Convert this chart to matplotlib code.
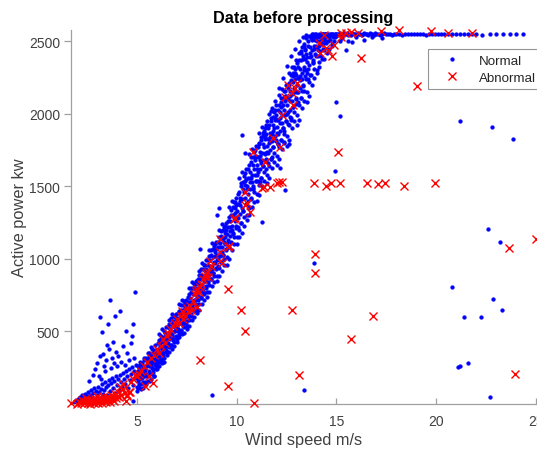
import matplotlib
matplotlib.use("Agg")
import matplotlib.pyplot as plt
from matplotlib.ticker import FixedLocator

plt.rcParams['font.family'] = ['Liberation Sans', 'DejaVu Sans']

# ---------------- data ----------------
# Normal points: low wind region (cut-in)
norm_low_x = [1.85,1.9,2.0,2.05,2.1,2.15,2.2,2.25,2.3,2.35,2.4,2.45,2.5,2.55,2.6,2.65,2.7,2.75,2.8,2.85,
              2.9,2.95,3.0,3.05,3.1,3.15,3.2,3.25,3.3,3.35,3.4,3.45,3.5,3.55,3.6,3.65,3.7,3.75,3.8,3.85,
              3.9,3.95,4.0,4.05,4.1,4.15,4.2,4.25,4.3,4.35,4.4,4.45,4.5,4.55,4.6,4.65,4.7,4.75,4.8,4.85,
              4.9,4.95,5.0,5.0]
norm_low_y = [5,20,12,35,8,50,25,60,15,40,70,30,55,85,20,65,95,45,75,110,
              35,90,60,120,80,40,105,135,70,95,150,115,60,130,165,90,145,180,110,160,
              75,190,130,170,95,200,150,120,215,175,140,230,190,110,240,165,210,255,130,230,
              180,270,205,120]
# Normal points scattered above the cut-in band
norm_up_x = [2.6,2.8,2.9,3.0,3.1,3.15,3.25,3.3,3.35,3.45,3.5,3.55,3.6,3.15,3.65,3.75,3.8,3.85,3.9,3.95,
             4.05,4.15,4.2,4.3,4.45,4.5,4.6,4.7,4.8,4.9,4.85,3.4,3.7,4.0,4.4,3.2,4.75]
norm_up_y = [160,200,240,280,190,330,495,345,260,300,410,550,380,600,720,320,425,280,605,360,
             330,640,290,400,500,350,300,420,550,770,320,225,250,260,270,170,470]
# Normal points: main rising band (5-10 m/s)
norm_mid_x = [5.02,5.05,5.08,5.1,5.13,5.16,5.18,5.21,5.24,5.26,5.29,5.31,5.34,5.36,5.39,5.41,5.44,5.46,5.48,5.5,
              5.52,5.55,5.57,5.6,5.62,5.65,5.67,5.7,5.72,5.75,5.77,5.8,5.82,5.85,5.87,5.9,5.92,5.95,5.97,6.0,
              6.02,6.05,6.07,6.1,6.12,6.15,6.17,6.2,6.22,6.25,6.27,6.3,6.32,6.35,6.37,6.4,6.42,6.45,6.47,6.5,
              6.52,6.55,6.57,6.6,6.62,6.65,6.67,6.7,6.72,6.75,6.77,6.8,6.82,6.85,6.87,6.9,6.92,6.95,6.97,7.0,
              7.02,7.05,7.07,7.1,7.12,7.15,7.17,7.2,7.22,7.25,7.27,7.3,7.32,7.35,7.37,7.4,7.42,7.45,7.47,7.5,
              7.52,7.55,7.57,7.6,7.62,7.65,7.67,7.7,7.72,7.75,7.77,7.8,7.82,7.85,7.87,7.9,7.92,7.95,7.97,8.0,
              8.02,8.05,8.07,8.1,8.12,8.15,8.17,8.2,8.22,8.25,8.27,8.3,8.32,8.35,8.37,8.4,8.42,8.45,8.47,8.5,
              8.52,8.55,8.57,8.6,8.62,8.65,8.67,8.7,8.72,8.75,8.77,8.8,8.82,8.85,8.87,8.9,8.92,8.95,8.97,9.0,
              9.02,9.05,9.07,9.1,9.12,9.15,9.17,9.2,9.22,9.25,9.27,9.3,9.32,9.35,9.37,9.4,9.42,9.45,9.47,9.5,
              9.52,9.55,9.57,9.6,9.62,9.65,9.67,9.7,9.72,9.75,9.77,9.8,9.82,9.85,9.87,9.9,9.92,9.95,9.97,10.0]
norm_mid_y = [90,230,160,250,120,200,270,140,230,180,110,260,200,300,150,240,320,190,140,270,
              200,320,160,260,350,210,290,170,330,250,380,220,300,190,360,270,410,240,320,280,
              240,380,300,440,260,350,420,310,470,380,280,430,350,500,320,450,390,530,360,420,
              340,480,400,550,360,450,520,410,590,470,380,540,450,610,430,500,560,460,620,520,
              430,590,500,640,460,560,620,510,680,570,480,650,560,710,530,600,660,560,720,620,
              520,700,600,760,540,660,730,620,800,680,580,760,660,830,640,720,790,680,850,740,
              630,830,720,890,650,780,860,740,930,800,690,880,780,960,760,850,920,800,990,870,
              740,960,840,1020,770,900,990,860,1060,930,810,1010,900,1090,880,970,1050,930,1120,990,
              850,1080,950,1150,880,1020,1110,980,1190,1050,920,1140,1030,1220,1000,1100,1180,1060,1250,1110,
              960,1220,1080,1290,1000,1160,1260,1120,1340,1200,1060,1300,1180,1390,1150,1260,1350,1230,1420,1290]
norm_mid2_x = [5.01,5.035,5.06,5.085,5.11,5.135,5.16,5.185,5.21,5.235,5.26,5.285,5.31,5.335,5.36,5.385,5.41,5.435,5.46,5.485,
               5.51,5.535,5.56,5.585,5.61,5.635,5.66,5.685,5.71,5.735,5.76,5.785,5.81,5.835,5.86,5.885,5.91,5.935,5.96,5.985,
               6.01,6.035,6.06,6.085,6.11,6.135,6.16,6.185,6.21,6.235,6.26,6.285,6.31,6.335,6.36,6.385,6.41,6.435,6.46,6.485,
               6.51,6.535,6.56,6.585,6.61,6.635,6.66,6.685,6.71,6.735,6.76,6.785,6.81,6.835,6.86,6.885,6.91,6.935,6.96,6.985,
               7.01,7.035,7.06,7.085,7.11,7.135,7.16,7.185,7.21,7.235,7.26,7.285,7.31,7.335,7.36,7.385,7.41,7.435,7.46,7.485,
               7.51,7.535,7.56,7.585,7.61,7.635,7.66,7.685,7.71,7.735,7.76,7.785,7.81,7.835,7.86,7.885,7.91,7.935,7.96,7.985,
               8.01,8.035,8.06,8.085,8.11,8.135,8.16,8.185,8.21,8.235,8.26,8.285,8.31,8.335,8.36,8.385,8.41,8.435,8.46,8.485,
               8.51,8.535,8.56,8.585,8.61,8.635,8.66,8.685,8.71,8.735,8.76,8.785,8.81,8.835,8.86,8.885,8.91,8.935,8.96,8.985,
               9.01,9.035,9.06,9.085,9.11,9.135,9.16,9.185,9.21,9.235,9.26,9.285,9.31,9.335,9.36,9.385,9.41,9.435,9.46,9.485,
               9.51,9.535,9.56,9.585,9.61,9.635,9.66,9.685,9.71,9.735,9.76,9.785,9.81,9.835,9.86,9.885,9.91,9.935,9.96,9.985]
norm_mid2_y = [180,110,260,200,140,290,170,230,100,210,280,150,250,190,320,220,130,260,300,200,
               270,190,350,230,300,160,330,260,390,210,280,350,240,310,190,370,290,250,340,300,
               350,260,420,330,480,290,400,360,450,310,520,380,340,460,400,290,490,430,370,470,
               450,360,530,420,580,390,490,460,550,410,620,480,440,570,500,400,600,530,470,580,
               540,450,630,520,690,480,590,560,650,500,720,580,540,680,600,490,700,630,570,680,
               650,540,740,630,800,580,700,670,770,610,840,700,650,800,720,600,830,760,690,800,
               770,650,860,750,920,690,820,790,890,730,970,820,770,930,850,720,960,880,810,930,
               900,770,990,880,1060,820,950,920,1030,860,1110,950,900,1070,980,840,1100,1020,940,1070,
               1030,880,1120,1000,1200,940,1080,1050,1160,980,1240,1080,1030,1200,1120,960,1230,1150,1070,1200,
               1170,1010,1260,1130,1360,1080,1220,1190,1300,1110,1400,1230,1170,1360,1280,1100,1390,1320,1210,1370]
# Normal points: steep upper band (10-15 m/s)
norm_high_x = [10.02,10.05,10.07,10.1,10.12,10.15,10.17,10.2,10.22,10.25,10.27,10.3,10.32,10.35,10.37,10.4,10.42,10.45,10.47,10.5,
               10.52,10.55,10.57,10.6,10.62,10.65,10.67,10.7,10.72,10.75,10.77,10.8,10.82,10.85,10.87,10.9,10.92,10.95,10.97,11.0,
               11.02,11.05,11.07,11.1,11.12,11.15,11.17,11.2,11.22,11.25,11.27,11.3,11.32,11.35,11.37,11.4,11.42,11.45,11.47,11.5,
               11.52,11.55,11.57,11.6,11.62,11.65,11.67,11.7,11.72,11.75,11.77,11.8,11.82,11.85,11.87,11.9,11.92,11.95,11.97,12.0,
               12.02,12.05,12.07,12.1,12.12,12.15,12.17,12.2,12.22,12.25,12.27,12.3,12.32,12.35,12.37,12.4,12.42,12.45,12.47,12.5,
               12.52,12.55,12.57,12.6,12.62,12.65,12.67,12.7,12.72,12.75,12.77,12.8,12.82,12.85,12.87,12.9,12.92,12.95,12.97,13.0,
               13.02,13.05,13.07,13.1,13.12,13.15,13.17,13.2,13.22,13.25,13.27,13.3,13.32,13.35,13.37,13.4,13.42,13.45,13.47,13.5,
               13.52,13.55,13.57,13.6,13.62,13.65,13.67,13.7,13.72,13.75,13.77,13.8,13.82,13.85,13.87,13.9,13.92,13.95,13.97,14.0,
               14.02,14.05,14.07,14.1,14.12,14.15,14.17,14.2,14.22,14.25,14.27,14.3,14.32,14.35,14.37,14.4,14.42,14.45,14.47,14.5,
               14.52,14.55,14.57,14.6,14.62,14.65,14.67,14.7,14.72,14.75,14.77,14.8,14.82,14.85,14.87,14.9,14.92,14.95,14.97,15.0]
norm_high_y = [1100,1380,1220,1460,1150,1310,1420,1250,1520,1350,1180,1480,1330,1570,1290,1420,1540,1380,1620,1480,
               1270,1560,1400,1650,1300,1480,1600,1420,1700,1530,1360,1650,1500,1740,1460,1580,1700,1540,1780,1620,
               1400,1700,1540,1790,1440,1620,1740,1560,1840,1680,1500,1790,1640,1880,1600,1720,1840,1680,1920,1740,
               1520,1830,1660,1920,1560,1750,1870,1690,1970,1810,1630,1920,1770,2010,1730,1850,1970,1810,2060,1870,
               1650,1960,1790,2060,1690,1880,2010,1820,2110,1940,1760,2060,1900,2160,1860,1990,2110,1950,2200,2000,
               1780,2100,1930,2210,1820,2030,2160,1960,2270,2090,1900,2220,2050,2320,2010,2150,2280,2110,2370,2150,
               1920,2250,2080,2370,1960,2180,2310,2110,2430,2240,2040,2380,2200,2480,2160,2300,2440,2260,2520,2300,
               2080,2390,2240,2500,2120,2340,2460,2270,2540,2400,2200,2510,2360,2550,2310,2450,2540,2410,2550,2470,
               2280,2500,2400,2540,2320,2470,2530,2430,2550,2500,2380,2545,2480,2550,2440,2520,2550,2500,2550,2530,
               2420,2540,2500,2550,2450,2530,2550,2510,2550,2545,2480,2550,2530,2550,2500,2545,2550,2530,2550,2540]
norm_high2_x = [10.01,10.035,10.06,10.085,10.11,10.135,10.16,10.185,10.21,10.235,10.26,10.285,10.31,10.335,10.36,10.385,10.41,10.435,10.46,10.485,
                10.51,10.535,10.56,10.585,10.61,10.635,10.66,10.685,10.71,10.735,10.76,10.785,10.81,10.835,10.86,10.885,10.91,10.935,10.96,10.985,
                11.01,11.035,11.06,11.085,11.11,11.135,11.16,11.185,11.21,11.235,11.26,11.285,11.31,11.335,11.36,11.385,11.41,11.435,11.46,11.485,
                11.51,11.535,11.56,11.585,11.61,11.635,11.66,11.685,11.71,11.735,11.76,11.785,11.81,11.835,11.86,11.885,11.91,11.935,11.96,11.985,
                12.01,12.035,12.06,12.085,12.11,12.135,12.16,12.185,12.21,12.235,12.26,12.285,12.31,12.335,12.36,12.385,12.41,12.435,12.46,12.485,
                12.51,12.535,12.56,12.585,12.61,12.635,12.66,12.685,12.71,12.735,12.76,12.785,12.81,12.835,12.86,12.885,12.91,12.935,12.96,12.985,
                13.01,13.035,13.06,13.085,13.11,13.135,13.16,13.185,13.21,13.235,13.26,13.285,13.31,13.335,13.36,13.385,13.41,13.435,13.46,13.485,
                13.51,13.535,13.56,13.585,13.61,13.635,13.66,13.685,13.71,13.735,13.76,13.785,13.81,13.835,13.86,13.885,13.91,13.935,13.96,13.985,
                14.01,14.035,14.06,14.085,14.11,14.135,14.16,14.185,14.21,14.235,14.26,14.285,14.31,14.335,14.36,14.385,14.41,14.435,14.46,14.485]
norm_high2_y = [1330,1150,1450,1280,1560,1200,1400,1370,1500,1250,1600,1410,1330,1530,1460,1230,1590,1510,1380,1550,
                1500,1300,1620,1450,1720,1360,1560,1530,1670,1410,1760,1580,1490,1700,1620,1390,1750,1680,1540,1710,
                1650,1450,1770,1600,1870,1510,1710,1680,1820,1560,1910,1730,1640,1850,1770,1540,1900,1830,1690,1860,
                1780,1580,1900,1730,2000,1640,1840,1810,1950,1690,2040,1860,1770,1980,1900,1670,2030,1960,1820,1990,
                1910,1710,2030,1860,2130,1770,1970,1940,2080,1820,2170,1990,1900,2110,2030,1800,2160,2090,1950,2120,
                2060,1850,2180,2010,2280,1920,2120,2090,2230,1970,2320,2140,2050,2260,2180,1950,2310,2240,2100,2270,
                2200,1990,2320,2150,2420,2060,2260,2230,2370,2110,2460,2280,2190,2400,2320,2090,2450,2380,2240,2410,
                2360,2150,2470,2310,2540,2220,2420,2390,2520,2270,2550,2440,2350,2530,2470,2250,2550,2510,2400,2530,
                2460,2300,2530,2440,2550,2360,2500,2480,2545,2400,2550,2510,2450,2550,2520,2380,2550,2540,2490,2550]
norm_high3_x = [10.6,10.7,10.8,10.9,11.0,11.1,11.2,11.3,11.4,11.5,11.6,11.7,11.8,11.9,12.0,12.1,12.2,12.3,12.4,12.5,
                12.6,12.7,12.8,12.9,13.0,13.1,13.2,13.3,13.4,13.5,11.15,11.45,11.75,12.05,12.35,12.65,12.95,13.25,13.55,13.85]
norm_high3_y = [1350,1560,1480,1700,1580,1800,1660,1870,1730,1950,1800,2020,1880,2090,1960,2180,2050,2250,2120,2330,
                2200,2400,2280,2450,2350,2500,2420,2530,2470,2545,1530,1620,1700,1790,1880,1980,2070,2160,2280,2370]
# Normal points: rated power plateau
norm_top_x = [15.0,15.07,15.13,15.2,15.26,15.33,15.4,15.46,15.53,15.6,15.66,15.73,15.8,15.86,15.93,16.0,16.07,16.13,
              16.2,16.27,16.33,16.4,16.47,16.53,16.6,16.67,16.73,16.8,16.87,16.93,17.0,17.1,17.2,17.3,17.4,17.5,
              17.6,17.7,17.8,17.9,18.0,18.15,18.3,18.45,18.6,18.75,18.9,19.05,19.2,19.35,19.5,19.65,19.8,19.95,
              20.1,20.25,20.4,20.6,20.8,21.0,21.2,21.4,21.6,21.8,22.0,22.3,22.7,23.0,23.35,23.7,24.0,24.35,
              15.3,15.6,16.0,16.4,15.8,17.3,16.8,15.5,14.8,15.2]
norm_top_y = [2548,2553,2545,2556,2550,2543,2554,2549,2557,2546,2552,2544,2555,2548,2551,2546,2556,2549,
              2553,2545,2550,2557,2547,2552,2544,2555,2549,2551,2546,2554,2548,2552,2545,2550,2556,2547,
              2553,2549,2545,2552,2548,2550,2546,2553,2549,2551,2547,2552,2548,2550,2546,2553,2549,2551,
              2548,2552,2547,2550,2549,2551,2548,2550,2547,2552,2549,2546,2550,2548,2551,2547,2550,2548,
              2520,2500,2530,2510,2494,2521,2530,2440,2470,2500]
# Isolated normal points
norm_out_x = [15.0,15.2,14.95,21.2,22.8,23.85,22.6,23.2,12.4,12.15,12.35,12.6,13.9,20.8,22.85,23.3,21.4,22.25,
              21.1,21.2,21.6,22.7,13.35,8.75,10.25,10.4,9.0,9.1,11.25,4.8,8.15]
norm_out_y = [2082,1986,1608,1951,1910,1827,1209,1120,1477,1628,1807,1793,969,804,721,646,598,598,
              254,261,282,48,96,62,1855,1730,1305,1353,1257,20,1065]

# Abnormal points
abn_low_x = [1.7,2.0,2.1,2.2,2.3,2.35,2.4,2.5,2.55,2.6,2.65,2.7,2.75,2.8,2.85,2.9,2.95,3.0,3.05,3.1,
             3.15,3.2,3.25,3.3,3.35,3.4,3.45,3.5,3.55,3.6,3.65,3.7,3.75,3.8,3.85,3.9,3.95,4.0,4.05,4.1,
             4.15,4.2,4.3,4.4,4.5,4.45,4.6,2.45,2.25,3.0,4.5,4.65,4.3,5.4,5.8,5.6]
abn_low_y = [5,3,15,8,20,5,12,25,8,18,3,30,12,22,6,35,15,28,8,40,
             18,30,10,45,22,35,12,50,28,40,15,60,32,48,20,70,38,55,85,45,
             120,65,100,75,60,20,80,40,30,55,55,82,137,124,144,192]
abn_band_x = [5.0,5.2,5.5,5.7,6.0,6.1,6.3,6.4,6.5,6.65,6.8,7.0,7.1,7.25,7.4,7.5,7.65,7.7,7.8,7.9,
              8.0,8.15,8.2,8.3,8.4,8.55,8.65,8.7,9.15,9.15,9.15,9.6,6.2,6.9,7.55,8.1,5.35,5.85,6.55,7.2,
              7.95,8.45,5.1,4.8,4.9,4.7,9.25,9.55,9.9,8.55,8.0,7.3]
abn_band_y = [192,230,288,320,378,350,447,420,470,515,540,584,560,639,610,660,673,650,708,760,
              790,804,830,859,880,907,983,950,983,1051,1134,1086,400,560,640,770,260,340,490,610,
              780,900,210,170,200,150,975,1079,1285,872,666,584]
abn_up_x = [10.4,10.5,10.65,9.85,10.4,11.35,11.4,10.8,12.15,11.8,12.25,12.8,12.4,12.75,12.9,13.0,12.55,
            14.15,14.4,14.5,14.9,15.25,15.75,15.5,16.1,14.2,14.6,14.8,11.65,11.25,12.0,12.1,12.25]
abn_up_y = [1463,1388,1326,1278,1374,1498,1670,1738,1772,1834,1992,2061,2116,2143,2178,2212,2198,
            2487,2542,2452,2473,2528,2562,2560,2558,2420,2440,2400,1498,1490,1525,1530,1528]
abn_out_x = [8.15,9.55,10.2,10.4,9.55,10.85,13.95,13.95,12.75,16.85,15.75,13.1,23.65,23.95,25.0,
             13.9,14.5,14.75,15.2,16.55,17.1,17.45,18.4,19.95,15.1,16.25,19.05,
             15.25,17.25,18.15,19.75,20.6,21.8]
abn_out_y = [302,790,646,502,124,7,1037,900,646,605,447,199,1072,206,1134,
             1525,1505,1525,1525,1525,1518,1525,1505,1525,1738,2385,2192,
             2555,2570,2576,2570,2555,2555]

normal_x = (norm_low_x + norm_up_x + norm_mid_x + norm_mid2_x + norm_high_x + norm_high2_x
            + norm_high3_x + norm_top_x + norm_out_x)
normal_y = (norm_low_y + norm_up_y + norm_mid_y + norm_mid2_y + norm_high_y + norm_high2_y
            + norm_high3_y + norm_top_y + norm_out_y)
abn_x = abn_low_x + abn_band_x + abn_up_x + abn_out_x
abn_y = abn_low_y + abn_band_y + abn_up_y + abn_out_y

x_ticks = [5, 10, 15, 20, 25]
y_ticks = [500, 1000, 1500, 2000, 2500]

# ---------------- figure ----------------
fig = plt.figure(figsize=(5.37, 4.52), dpi=100)
ax = fig.add_axes([71/537, 47/452, 465/537, 374/452])

ax.plot(normal_x, normal_y, linestyle='none', marker='o', markersize=2.7,
        markerfacecolor=(0, 0, 1), markeredgecolor=(0, 0, 1), markeredgewidth=0.3,
        label='Normal', zorder=2)
ax.plot(abn_x, abn_y, linestyle='none', marker='x', markersize=5.2,
        markeredgecolor=(1, 0, 0), markeredgewidth=1.0, label='Abnormal', zorder=3, clip_on=False)

ax.set_xlim(1.7, 25)
ax.set_ylim(0, 2578)
ax.xaxis.set_major_locator(FixedLocator(x_ticks))
ax.yaxis.set_major_locator(FixedLocator(y_ticks))

for s in ['top', 'right']:
    ax.spines[s].set_visible(False)
for s in ['left', 'bottom']:
    ax.spines[s].set_color('#a0a0a0')
    ax.spines[s].set_linewidth(0.9)

ax.tick_params(axis='x', direction='in', length=4, width=0.9, color='#a0a0a0',
               labelsize=10, labelcolor='#404040', pad=7)
ax.tick_params(axis='y', direction='out', length=5, width=0.9, color='#a0a0a0',
               labelsize=10, labelcolor='#404040', pad=3)

ax.set_title('Data before processing', fontsize=11.7, fontweight='bold', color='black', pad=6)
ax.set_xlabel('Wind speed m/s', fontsize=11.8, color='#404040', labelpad=3)
ax.set_ylabel('Active power kw', fontsize=11.8, color='#404040', labelpad=1.5)

leg = ax.legend(loc='upper left', bbox_to_anchor=(0.768, 0.949), fontsize=9.6,
                frameon=True, fancybox=False, handlelength=2.8, handletextpad=0.6,
                borderpad=0.4, labelspacing=0.35, borderaxespad=0)
leg.get_frame().set_edgecolor('#7a7a7a')
leg.get_frame().set_linewidth(0.8)
for t in leg.get_texts():
    t.set_color('#262626')

fig.savefig('out.png', dpi=100)
